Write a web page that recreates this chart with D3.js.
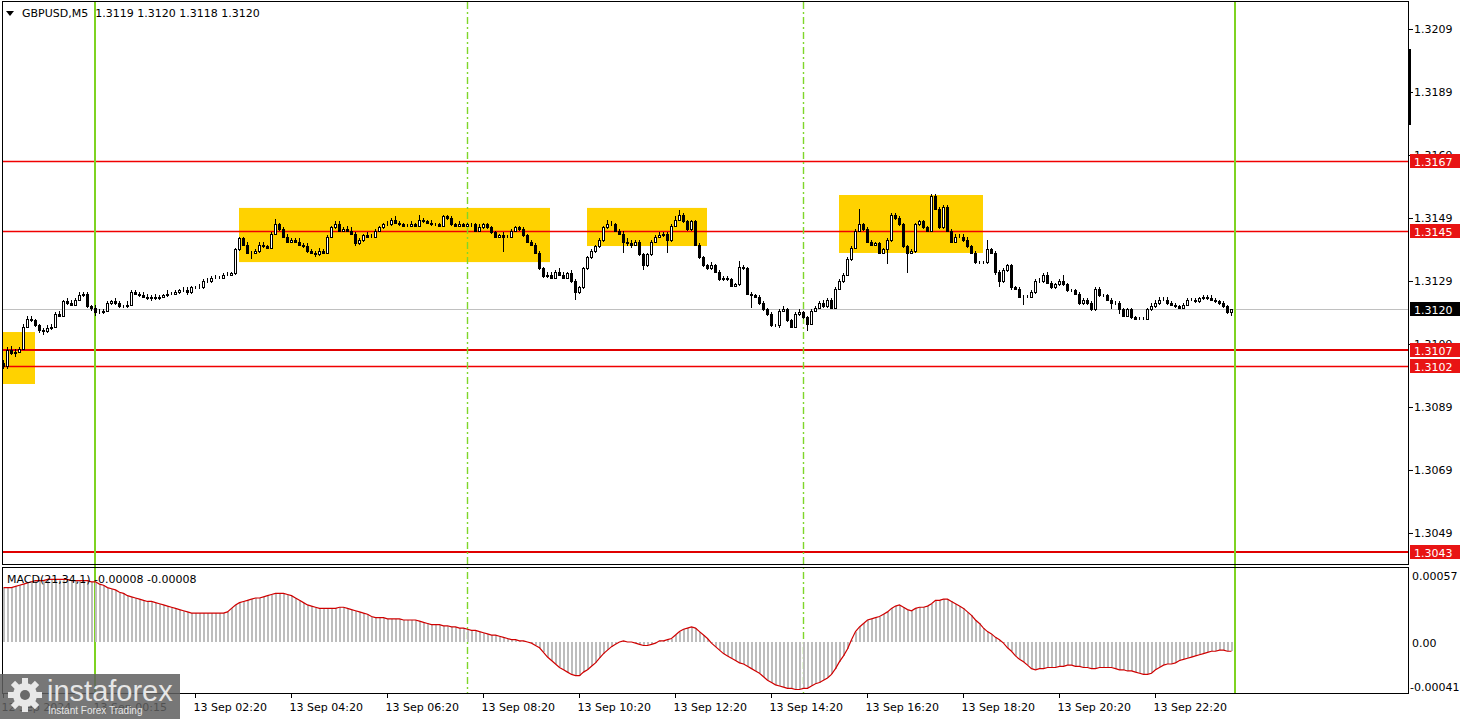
<!DOCTYPE html>
<html><head><meta charset="utf-8">
<script src="https://cdn.jsdelivr.net/npm/d3@7"></script>
<style>body{margin:0;background:#fff;overflow:hidden}svg{display:block}</style>
</head><body>
<svg id="c" width="1466" height="719"></svg>
<script>
// ---------- data ----------
const symbolTitle = "GBPUSD,M5";
const headerOHLC = "1.3119 1.3120 1.3118 1.3120";
const macdTitle = "MACD(21,34,1) -0.00008 -0.00008";
const pipBase = 1.3;          // closes are given in pips above 1.3000
const firstOpen = 103;
const closePips = [
102,107,106,106.5,107.5,114.5,117,116.5,115,113.5,
113,114,114.5,118.5,118,122.5,122,121.5,123,124.5,
125,121,120.5,119,119,119.5,122,122.5,122,121,
121,121.5,125.5,125,124.5,124,123.5,124,123.5,124,
124.5,125,125,125.5,126,126,125.5,127,127,127,
129,129,130,130,130,131,131,131.5,139,142.5,
140.5,138,138,138.5,140.5,140,139.5,144,147,145.5,
143,141.5,142,141.5,140.5,140,138.5,138,137.5,138.5,
138,143,146,147,145,145.5,145,144,141,142,
143.5,143,143,145,146,147,147,148.5,147.5,147,
146.5,146.5,147,146.5,148.5,148,147.5,147,147,146.5,
149.5,149,147,146.5,147,146.5,147,147,145,146,
147,146,144.5,143,143.5,143,143,145,146,145.5,
143.5,141.5,140.5,138,133,130.5,131,130,132,131,
130,131.5,129,125.5,127,133,136.5,138.5,140,142,
146,147,147,145,144,141.5,141,140.5,141.5,137.5,
134,137.5,141.5,143,143.5,144,142,146.5,148.5,150,
148,145.5,148,140.5,136.5,134,133,134,132,129.5,
130,129.5,127.5,128,133.5,133,125,124.5,124,122,
120,118.5,115,115,119.5,120,116.5,114.5,118.5,119,
117.5,115.5,119.5,120.5,122,121,123,120.5,126.5,129,
131,136,139.5,145,147,145.5,141.5,140.5,141,138,
139,142,150,149,147,140,138,138.5,147,148,
146,145,156,152,146,152.5,145,141.5,143,143,
142,140,138,135,135,135,139,138,132,129,
132.5,134,127,126.5,124,124,124,125.5,129,129,
131,128.5,127,128,129,128,126,126,125,122,
123,122,120,126.5,124.5,124.5,123,122,122,120,
118,120,117.5,117,117,117,120,121,122,123,
123,122,121.5,121,120.5,121.5,123,123,122.5,123.5,
124,123.5,123,122.5,122,121,119,120];
const wickUp = [
1,1,1.5,1,0.5,1,1,1,0.5,0.5,
0.5,1,1,0.5,1,0.5,1,1,0.5,1,
0.5,0.5,0.5,1,1,0.5,0.5,0.5,1,0.5,
0.5,1,0.5,0.5,0.5,1,1,0.5,1,0.5,
0.5,1,0.5,0.5,0.5,1,1,0.5,0.5,1,
0.5,1,0.5,1,0.5,0.5,1,0.5,0.5,0.5,
0.5,1,0.5,0.5,1,1,0.5,0.5,1.7,0.5,
0.5,1,0.5,0.5,1,0.5,1,0.5,0.5,1,
0.5,0.5,0.5,1,1,0.5,1,1,0.5,0.5,
0.5,1,1,0.5,0.5,0.5,1,0.5,1,0.5,
0.5,0.5,1,0.5,1.5,0.5,0.5,1,0.5,0.5,
0.6,0.5,0.5,0.5,1,0.5,0.5,0.5,0.5,1,
0.5,0.5,0.5,0.5,0.5,1,0.5,0.5,0.5,0.5,
0.5,0.5,0.5,0.5,0.5,0.5,1,1,0.5,1,
1,0.5,1,0.5,0.5,0.5,0.5,0.5,0.5,0.5,
0.5,1.5,1,0.5,0.5,1,1,1,0.5,0.5,
0.5,0.5,0.5,0.5,1,0.5,0.5,0.5,1,1.5,
0.5,0.5,0.5,0.5,0.5,0.5,0.5,1,0.5,0.5,
0.5,0.5,0.5,0.5,2,0.5,0.5,0.5,0.5,0.5,
0.5,0.5,0.5,0.5,0.5,1,0.5,0.5,0.5,1,
0.5,0.5,0.5,0.5,0.5,1,0.5,0.5,0.5,0.5,
0.5,0.5,0.5,0.5,5,0.5,0.5,0.5,0.5,0.5,
0.5,0.5,0.5,0.5,0.5,0.5,0.5,0.5,0.5,0.5,
0.5,0.5,0.5,0.5,0.5,0.5,0.5,0.5,1,1,
1,1,0.5,0.5,0.5,0.5,3,0.5,0.5,0.5,
0.5,0.5,0.5,0.5,0.5,0.5,0.5,0.5,0.5,1,
0.5,1,0.5,0.5,0.5,2,0.5,0.5,0.5,0.5,
0.5,0.5,0.5,0.5,0.5,0.5,0.5,0.5,0.5,0.5,
0.5,0.5,0.5,0.5,0.5,0.5,0.5,1,1,1,
1,1,0.5,0.5,0.5,0.5,0.5,0.5,0.5,0.5,
0.5,0.5,1,0.5,0.5,0.5,0.5,0];
const wickDn = [
1,1,0.5,1,0.5,0.5,0.5,0.5,0.5,1,
1.2,0.5,0.5,0.5,0.5,0.5,0.5,0.5,0.5,0.5,
0.5,0.5,1,1,0.5,0.5,0.5,0.5,0.5,0.5,
0.5,0.5,0.5,0.5,0.5,0.5,0.5,1,0.5,0.5,
0.5,0.5,0.5,0.5,0.5,0.5,1,0.5,0.5,0.5,
0.5,0.5,0.5,0.5,0.5,0.5,0.5,0.5,0.5,0.5,
0.5,0.5,2,0.5,0.5,0.5,0.5,0.5,0.5,0.5,
0.5,0.5,0.5,0.5,0.5,0.5,0.5,0.5,1,0.5,
0.5,0.5,0.5,0.5,0.5,0.5,0.5,0.5,1,0.5,
0.5,0.5,0.5,0.5,0.5,0.5,0.5,0.5,0.5,0.5,
0.5,0.5,0.5,0.5,0.5,0.5,0.5,0.5,0.5,0.5,
0.5,0.5,0.5,0.5,0.5,0.5,0.5,1,0.5,0.5,
0.5,0.5,0.5,0.5,0.5,4.7,0.5,0.5,0.5,0.5,
0.5,0.5,0.5,0.5,0.5,0.5,0.5,0.5,0.5,0.5,
0.5,0.5,0.5,2.5,0.5,0.5,0.5,0.5,0.5,0.5,
0.5,0.5,0.5,0.5,0.5,3.6,1,1,0.5,0.5,
1.5,0.5,0.5,0.5,0.5,0.5,4,0.5,0.5,0.5,
0.5,0.5,0.5,0.5,0.5,0.5,0.5,0.5,0.5,0.5,
0.5,0.5,0.5,0.5,0.5,0.5,0.5,4,0.5,0.5,
0.5,0.5,0.5,0.5,1,0.5,0.5,0.5,0.5,0.5,
0.5,2.5,0.5,0.5,0.5,0.5,0.5,0.5,0.5,0.5,
0.5,0.5,0.5,0.5,0.5,0.5,0.5,0.5,0.5,0.5,
0.5,4.5,0.5,0.5,0.5,0.5,6.5,0.5,0.5,0.5,
0.5,0.5,0.5,0.5,0.5,0.5,0.5,0.5,0.5,0.5,
0.5,0.5,0.5,0.5,0.5,0.5,0.5,0.5,1,2,
0.5,0.5,1,0.5,0.5,2.5,0.5,0.5,0.5,0.5,
0.5,0.5,0.5,0.5,0.5,0.5,0.5,0.5,0.5,0.5,
0.5,0.5,0.5,0.5,0.5,0.5,0.5,2,0.5,1.5,
0.5,0.5,0.5,0.5,0.5,0.5,0.5,0.5,0.5,0.5,
0.5,0.5,0.5,0.5,0.5,0.5,0.5,0.5,0.5,0.5,
0.5,0.5,0.5,0.5,0.5,0.5,0.5,1];
// MACD main line, in units of 0.00001
const macd = [
47,47,47,48,49,50,51,52,53,53,
53,54,54,54,54,54,54,53,53,53,
53,53,52,52,50,49,47,46,45,43,
42,40,39,38,37,36,35,35,34,33,
32,31,30,29,28,27,26,25,25,25,
25,25,25,25,25,25,26,29,32,34,
35,36,37,38,38,39,40,41,42,42,
42,41,40,38,36,34,32,31,30,29,
29,29,29,29,30,30,29,28,27,26,
25,24,22,21,21,21,20,20,20,20,
19,19,19,19,18,17,16,15,15,15,
14,14,13,13,12,12,11,10,10,9,
8,7,6,6,5,4,3,2,2,1,
1,0,-1,-3,-5,-9,-13,-16,-19,-22,
-24,-26,-28,-29,-29,-26,-24,-21,-18,-14,
-10,-7,-4,-2,0,1,0,0,-1,-2,
-3,-3,-2,-1,1,1,2,3,6,9,
11,12,13,12,9,6,3,-1,-4,-7,
-10,-12,-14,-16,-18,-19,-21,-23,-25,-27,
-30,-33,-35,-37,-38,-39,-40,-40,-41,-41,
-40,-40,-38,-36,-35,-33,-31,-28,-23,-17,
-12,-6,2,9,13,16,19,20,21,22,
24,26,29,31,32,30,28,27,29,30,
30,31,33,36,36,37,37,35,33,31,
29,26,23,19,16,12,9,7,4,2,
-1,-5,-8,-12,-15,-17,-20,-23,-24,-23,
-23,-22,-22,-22,-21,-21,-20,-20,-21,-21,
-22,-22,-23,-23,-22,-22,-22,-22,-23,-24,
-24,-25,-25,-26,-27,-28,-28,-27,-24,-22,
-20,-19,-19,-18,-16,-15,-14,-13,-12,-11,
-10,-9,-8,-8,-7,-7,-8,-8];
const priceTicks = [1.3209,1.3189,1.3169,1.3149,1.3129,1.3109,1.3089,1.3069,1.3049];
const levelPrices = [1.3167,1.3145,1.3107,1.3102,1.3043];
const levelWidths = [1.4,1.4,2,1.4,2];
const bidPrice = 1.3120;
const macdTicks = [0.00057,0,-0.00041];
const macdTickLabels = ["0.00057","0.00","-0.00041"];
const timeTickIdx = [0,23,48,72,96,120,144,168,192,216,240,264,288];
const timeTickLabels = ["12 Sep 2024","13 Sep 00:15","13 Sep 02:20","13 Sep 04:20","13 Sep 06:20","13 Sep 08:20","13 Sep 10:20","13 Sep 12:20","13 Sep 14:20","13 Sep 16:20","13 Sep 18:20","13 Sep 20:20","13 Sep 22:20"];
const zoneStart = [-0.25,59,146,209];
const zoneEnd = [8,136.75,176,245];
const zoneHigh = [1.31128,1.31522,1.31522,1.31563];
const zoneLow = [1.30963,1.3135,1.31401,1.31379];
const solidVIdx = [23,308];
const dashedVIdx = [116,200];

// ---------- build ----------
const candles = closePips.map((c,i)=>{
  const o = i===0 ? firstOpen : closePips[i-1];
  return {i, o: pipBase+o/10000, c: pipBase+c/10000,
          h: pipBase+(Math.max(o,c)+wickUp[i])/10000,
          l: pipBase+(Math.min(o,c)-wickDn[i])/10000};
});
const svg = d3.select("#c");
const FONT = "DejaVu Sans";
const x = d3.scaleLinear().domain([0,307]).range([3,1231]);
const yP = d3.scaleLinear().domain([1.303884,1.321757]).range([565,2]);
const yM = d3.scaleLinear().domain([-0.000449,0.000639]).range([694,568]);

// zones
svg.append("g").selectAll("rect").data(zoneStart).join("rect")
  .attr("x",(d,k)=>x(d)).attr("width",(d,k)=>x(zoneEnd[k])-x(d))
  .attr("y",(d,k)=>yP(zoneHigh[k])).attr("height",(d,k)=>yP(zoneLow[k])-yP(zoneHigh[k]))
  .attr("fill","#ffd200");

// bid line & levels
svg.append("line").attr("x1",3).attr("x2",1408)
  .attr("y1",Math.round(yP(bidPrice))+0.5).attr("y2",Math.round(yP(bidPrice))+0.5)
  .attr("stroke","#c0c0c0").attr("stroke-width",1);
svg.append("g").selectAll("line").data(levelPrices).join("line")
  .attr("x1",3).attr("x2",1408)
  .attr("y1",(d,k)=>Math.round(yP(d))+(levelWidths[k]<2?0.5:0))
  .attr("y2",(d,k)=>Math.round(yP(d))+(levelWidths[k]<2?0.5:0))
  .attr("stroke",(d,k)=>levelWidths[k]<2?"#f00000":"#e00000").attr("stroke-width",(d,k)=>levelWidths[k]);

// vertical lines
svg.append("g").selectAll("line").data(dashedVIdx).join("line")
  .attr("x1",d=>x(d)+0.5).attr("x2",d=>x(d)+0.5).attr("y1",2).attr("y2",694)
  .attr("stroke","#7fd62a").attr("stroke-width",1.4).attr("stroke-dasharray","7,3,2,3");
svg.append("g").selectAll("line").data(solidVIdx).join("line")
  .attr("x1",d=>x(d)).attr("x2",d=>x(d)).attr("y1",2).attr("y2",694)
  .attr("stroke","#7ed321").attr("stroke-width",2);

// candles
const cg = svg.append("g").attr("shape-rendering","crispEdges");
cg.selectAll("line").data(candles).join("line")
  .attr("x1",d=>x(d.i)+0.5).attr("x2",d=>x(d.i)+0.5)
  .attr("y1",d=>yP(d.h)).attr("y2",d=>yP(d.l))
  .attr("stroke","#000").attr("stroke-width",1);
cg.selectAll("rect").data(candles).join("rect")
  .attr("x",d=>x(d.i)-0.5).attr("width",2)
  .attr("y",d=>Math.round(yP(Math.max(d.o,d.c)))+0.5)
  .attr("height",d=>Math.max(0,Math.round(yP(Math.min(d.o,d.c)))-Math.round(yP(Math.max(d.o,d.c)))))
  .attr("fill",d=>d.c>=d.o?"#fff":"#000").attr("stroke","#000").attr("stroke-width",1);

// MACD histogram + line
const mg = svg.append("g").attr("shape-rendering","crispEdges");
mg.selectAll("rect").data(macd).join("rect")
  .attr("x",(d,i)=>x(i)-0.5).attr("width",2)
  .attr("y",d=>Math.min(yM(d*1e-5),yM(0))).attr("height",d=>Math.abs(yM(d*1e-5)-yM(0)))
  .attr("fill","#bdbdbd");
svg.append("path").datum(macd)
  .attr("d",d3.line().x((d,i)=>x(i)+0.5).y(d=>yM(d*1e-5)).curve(d3.curveLinear))
  .attr("fill","none").attr("stroke","#d00000").attr("stroke-width",1.2);

// frames
const fr = svg.append("g").attr("fill","none").attr("stroke","#000").attr("shape-rendering","crispEdges");
fr.append("rect").attr("x",2.5).attr("y",1.5).attr("width",1406).attr("height",563);
fr.append("rect").attr("x",2.5).attr("y",567.5).attr("width",1406).attr("height",126);
svg.append("rect").attr("x",1408).attr("y",49).attr("width",3).attr("height",76).attr("fill","#000");

// price axis
const pa = svg.append("g").attr("transform","translate(1409,0)")
  .call(d3.axisRight(yP).tickValues(priceTicks).tickFormat(d3.format(".4f")).tickSize(4).tickPadding(1));
pa.select(".domain").remove();
pa.selectAll("text").attr("font-family",FONT).attr("font-size",11).attr("fill","#000");

// level labels
const lab = svg.append("g");
const allLabels = levelPrices.map(p=>({p, fill:"#e81414"})).concat([{p:bidPrice, fill:"#000"}]);
lab.selectAll("rect").data(allLabels).join("rect")
  .attr("x",1410).attr("width",50).attr("y",d=>Math.round(yP(d.p))-7).attr("height",14)
  .attr("fill",d=>d.fill);
lab.selectAll("text").data(allLabels).join("text")
  .attr("x",1414).attr("y",d=>Math.round(yP(d.p))+4.5)
  .attr("font-family",FONT).attr("font-size",11).attr("fill","#fff")
  .text(d=>d3.format(".4f")(d.p));

// MACD axis labels
svg.append("g").selectAll("text").data(macdTicks).join("text")
  .attr("x",(d,k)=>k===2?1410:1412)
  .attr("y",(d,k)=>k===0?580:(k===1?646.5:691))
  .attr("font-family",FONT).attr("font-size",11).attr("fill","#000")
  .text((d,k)=>macdTickLabels[k]);

// time axis
const ta = svg.append("g").attr("transform","translate(0,694)")
  .call(d3.axisBottom(x).tickValues(timeTickIdx).tickFormat((d,k)=>timeTickLabels[k]).tickSize(4).tickPadding(0));
ta.select(".domain").remove();
ta.selectAll("text").attr("font-family",FONT).attr("font-size",11).attr("fill","#000")
  .attr("text-anchor","start").attr("dy",null).attr("x",-2).attr("y",17);

// headers
svg.append("path").attr("d","M6,11 L14,11 L10,16 Z").attr("fill","#000");
svg.append("text").attr("x",22).attr("y",17).attr("font-family",FONT).attr("font-size",11)
  .attr("xml:space","preserve").text(symbolTitle+"  "+headerOHLC);
svg.append("text").attr("x",7).attr("y",583).attr("font-family",FONT).attr("font-size",11)
  .text(macdTitle);

// logo
const lg = svg.append("g");
lg.append("rect").attr("x",0).attr("y",674).attr("width",180).attr("height",45).attr("fill","#5f5f5f").attr("opacity",0.85);
const gear = lg.append("g").attr("transform","translate(25,695)").attr("fill","#e8e8e8");
d3.range(8).forEach(k=>gear.append("rect").attr("x",-3).attr("y",-17).attr("width",6).attr("height",8)
  .attr("transform",`rotate(${k*45})`));
gear.append("circle").attr("r",12);
gear.append("circle").attr("r",5).attr("fill","#6a6a6a");
lg.append("text").attr("x",47).attr("y",701).attr("font-family","Liberation Sans").attr("font-size",29)
  .attr("fill","#e6e6e6").text("instaforex");
lg.append("text").attr("x",48).attr("y",714).attr("font-family","Liberation Sans").attr("font-size",10)
  .attr("fill","#e6e6e6").text("Instant Forex Trading");
</script>
</body></html>
